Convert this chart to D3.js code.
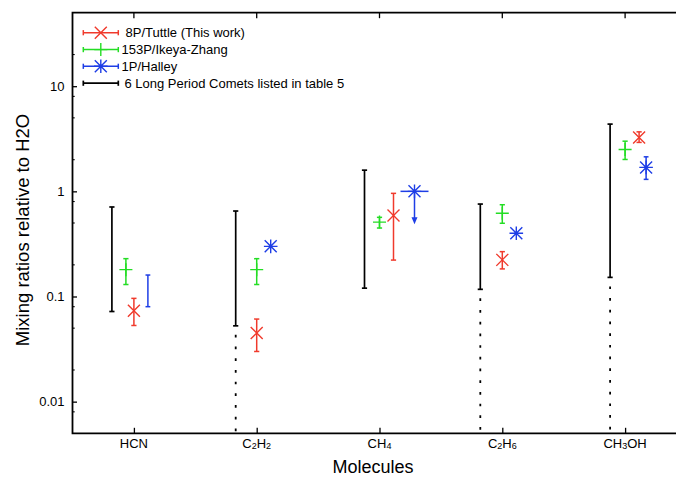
<!DOCTYPE html>
<html>
<head>
<meta charset="utf-8">
<script src="https://cdn.jsdelivr.net/npm/d3@7/dist/d3.min.js"></script>
<style>
  html, body { margin: 0; padding: 0; background: #fff; }
  svg { display: block; font-family: "Liberation Sans", Arial, Helvetica, sans-serif; }
</style>
</head>
<body>
<svg id="chart" width="676" height="477"></svg>
<script>
// Molecules on the x axis (digits in the formulas are drawn as subscripts)
const molecules = ["HCN", "C2H2", "CH4", "C2H6", "CH3OH"];

// 8P/Tuttle (this work): value and error range
const tuttleVal = [0.073, 0.045, 0.59, 0.223, 3.26];
const tuttleLo  = [0.053, 0.030, 0.222, 0.183, 2.92];
const tuttleHi  = [0.096, 0.061, 0.957, 0.267, 3.68];

// 153P/Ikeya-Zhang
const ikeyaVal = [0.18, 0.18, 0.51, 0.618, 2.5];
const ikeyaLo  = [0.13, 0.13, 0.448, 0.497, 2.01];
const ikeyaHi  = [0.229, 0.229, 0.566, 0.746, 3.0];

// 1P/Halley (HCN given only as a range, CH4 as an upper limit)
const halleyVal   = [null, 0.30, 1.0, 0.40, 1.69];
const halleyLo    = [0.08, null, null, null, 1.30];
const halleyHi    = [0.16, null, null, null, 2.13];
const halleyUpper = [false, false, true, false, false];

// Range spanned by the 6 long period comets (open-ended below where flagged)
const lpcLo        = [0.072, 0.0526, 0.12, 0.117, 0.152];
const lpcHi        = [0.71, 0.65, 1.59, 0.757, 4.36];
const lpcOpenBelow = [false, true, false, true, true];

const yTicks = [0.01, 0.1, 1, 10];
const yTickLabels = ["0.01", "0.1", "1", "10"];
const yMinorTicks = [0.008, 0.02, 0.05, 0.08, 0.2, 0.5, 0.8, 2, 5, 8, 20];

const legendLabels = [
  "8P/Tuttle (This work)",
  "153P/Ikeya-Zhang",
  "1P/Halley",
  "6 Long Period Comets listed in table 5"
];

// ---- layout ----
const colors = { tuttle: "#f03a2c", ikeya: "#24dd24", halley: "#1e3ee6", lpc: "#000" };
// horizontal offsets (px) of each series within a molecule group
const dodge = {
  lpc:    [-22, -21, -15, -22, -15],
  ikeya:  [-8, 0, 0, 0, 0],
  tuttle: [0, 0, 14, 0, 14],
  halley: [14, 14, 35, 14, 21]
};

const svg = d3.select("#chart");
const plotLeft = 72.5, plotRight = 686.5, plotTop = 12.7, plotBottom = 433.3;

const x = d3.scaleLinear().domain([0.5, molecules.length + 0.5]).range([plotLeft, plotRight]);
const y = d3.scaleLog().domain([0.005, 50]).range([plotBottom, plotTop]);

const g = svg.append("g");

// ---- axes frame ----
const frame = g.append("g").attr("stroke", "#000").attr("stroke-width", 1.8).attr("fill", "none");
frame.append("path").attr("d", `M${plotRight},${plotTop}H${plotLeft}V${plotBottom}H${plotRight}`);

// left axis: labels outside, ticks pointing inward
const yAxis = d3.axisLeft(y).tickValues(yTicks).tickFormat((d, i) => yTickLabels[i]).tickSize(-4.5).tickPadding(8);
const ya = g.append("g").attr("transform", `translate(${plotLeft},0)`).call(yAxis);
ya.select(".domain").remove();
ya.selectAll(".tick line").attr("stroke-width", 1.3);
ya.selectAll(".tick text").attr("font-size", 13).attr("fill", "#000")
  .attr("font-family", "'Liberation Sans', Arial, sans-serif");

g.append("g").selectAll("line").data(yMinorTicks).join("line")
  .attr("x1", plotLeft).attr("x2", plotLeft + 2.2)
  .attr("y1", d => y(d)).attr("y2", d => y(d))
  .attr("stroke", "#000").attr("stroke-width", 1.1);

// bottom axis ticks (inward) and top mirror ticks
const cats = molecules.map((m, i) => i + 1);
const xa = g.append("g").attr("transform", `translate(0,${plotBottom})`)
  .call(d3.axisBottom(x).tickValues(cats).tickSize(-5.5).tickFormat(() => ""));
xa.select(".domain").remove();
xa.selectAll(".tick line").attr("stroke-width", 1.3);

g.append("g").selectAll("line").data(cats).join("line")
  .attr("x1", d => x(d)).attr("x2", d => x(d))
  .attr("y1", plotTop).attr("y2", plotTop + 5.5)
  .attr("stroke", "#000").attr("stroke-width", 1.3);

// category labels with subscript digits
const catLabels = g.append("g").selectAll("text").data(molecules).join("text")
  .attr("x", (d, i) => x(i + 1)).attr("y", 447.5)
  .attr("text-anchor", "middle").attr("font-size", 13).attr("fill", "#000");
catLabels.each(function(d) {
  const t = d3.select(this);
  const parts = d.match(/[A-Za-z]+|\d+/g);
  let shifted = false;
  parts.forEach(p => {
    if (/\d/.test(p)) {
      t.append("tspan").attr("font-size", 9).attr("dy", shifted ? 0 : 1).text(p);
      shifted = true;
    } else {
      t.append("tspan").attr("dy", shifted ? -1 : 0).text(p);
      shifted = false;
    }
  });
});

// axis titles
g.append("text").attr("x", 373).attr("y", 473).attr("text-anchor", "middle")
  .attr("font-size", 18).attr("fill", "#000").text("Molecules");
g.append("text").attr("transform", "translate(29,230) rotate(-90)")
  .attr("text-anchor", "middle").attr("font-size", 18.5).attr("fill", "#000")
  .text("Mixing ratios relative to H2O");

// ---- mark helpers ----
const plot = g.append("g").attr("fill", "none").attr("stroke-linecap", "butt");

function errorBar(sel, cx, lo, hi, color, width, cap) {
  sel.append("line").attr("x1", cx).attr("x2", cx).attr("y1", y(lo)).attr("y2", y(hi))
    .attr("stroke", color).attr("stroke-width", width);
  [lo, hi].forEach(v => {
    sel.append("line").attr("x1", cx - cap).attr("x2", cx + cap).attr("y1", y(v)).attr("y2", y(v))
      .attr("stroke", color).attr("stroke-width", width);
  });
}

function marker(sel, kind, cx, cy, color) {
  const s = 6;
  const p = d3.path();
  if (kind === "x" || kind === "*") {
    p.moveTo(cx - s, cy - s); p.lineTo(cx + s, cy + s);
    p.moveTo(cx - s, cy + s); p.lineTo(cx + s, cy - s);
  }
  if (kind === "+" || kind === "*") {
    const r = kind === "+" ? 6.5 : 6.8;
    p.moveTo(cx - r, cy); p.lineTo(cx + r, cy);
    p.moveTo(cx, cy - r); p.lineTo(cx, cy + r);
  }
  sel.append("path").attr("d", p.toString()).attr("stroke", color).attr("stroke-width", 1.4).attr("fill", "none");
}

// ---- long period comet ranges ----
molecules.forEach((m, i) => {
  const cx = x(i + 1) + dodge.lpc[i];
  errorBar(plot, cx, lpcLo[i], lpcHi[i], colors.lpc, 1.7, 2.6);
  if (lpcOpenBelow[i]) {
    plot.append("line").attr("x1", cx).attr("x2", cx)
      .attr("y1", y(lpcLo[i]) + 9).attr("y2", plotBottom)
      .attr("stroke", "#000").attr("stroke-width", 1.8).attr("stroke-dasharray", "2.7 9");
  }
});

// ---- 153P/Ikeya-Zhang ----
molecules.forEach((m, i) => {
  const cx = x(i + 1) + dodge.ikeya[i];
  errorBar(plot, cx, ikeyaLo[i], ikeyaHi[i], colors.ikeya, 1.5, 2.6);
  marker(plot, "+", cx, y(ikeyaVal[i]), colors.ikeya);
});

// ---- 8P/Tuttle ----
molecules.forEach((m, i) => {
  const cx = x(i + 1) + dodge.tuttle[i];
  errorBar(plot, cx, tuttleLo[i], tuttleHi[i], colors.tuttle, 1.5, 2.6);
  marker(plot, "x", cx, y(tuttleVal[i]), colors.tuttle);
});

// ---- 1P/Halley ----
molecules.forEach((m, i) => {
  const cx = x(i + 1) + dodge.halley[i];
  if (halleyLo[i] != null) errorBar(plot, cx, halleyLo[i], halleyHi[i], colors.halley, 1.5, 2.4);
  if (halleyVal[i] != null) {
    const cy = y(halleyVal[i]);
    marker(plot, "*", cx, cy, colors.halley);
    if (halleyUpper[i]) {
      // upper limit: horizontal bar and downward arrow
      plot.append("line").attr("x1", cx - 14).attr("x2", cx + 14).attr("y1", cy).attr("y2", cy)
        .attr("stroke", colors.halley).attr("stroke-width", 1.5);
      plot.append("line").attr("x1", cx).attr("x2", cx).attr("y1", cy).attr("y2", cy + 28)
        .attr("stroke", colors.halley).attr("stroke-width", 1.5);
      plot.append("path").attr("d", `M${cx - 3},${cy + 26}L${cx + 3},${cy + 26}L${cx},${cy + 33}Z`)
        .attr("fill", colors.halley).attr("stroke", "none");
    }
  }
});

// ---- legend ----
const legendKeys = ["tuttle", "ikeya", "halley", "lpc"];
const legendMarkers = ["x", "+", "*", null];
const legendRowY = [32.7, 49.6, 66.3, 83.2];
const legendTextX = [125.5, 121.5, 121.5, 124.5];
const lg = g.append("g");
legendKeys.forEach((k, i) => {
  const ly = legendRowY[i], x0 = 83.3, x1 = 118.3;
  const w = k === "lpc" ? 1.7 : 1.5;
  lg.append("line").attr("x1", x0).attr("x2", x1).attr("y1", ly).attr("y2", ly)
    .attr("stroke", colors[k]).attr("stroke-width", w);
  [x0, x1].forEach(xx => lg.append("line").attr("x1", xx).attr("x2", xx)
    .attr("y1", ly - 2.6).attr("y2", ly + 2.6).attr("stroke", colors[k]).attr("stroke-width", w));
  if (legendMarkers[i]) marker(lg, legendMarkers[i], (x0 + x1) / 2, ly, colors[k]);
  lg.append("text").attr("x", legendTextX[i]).attr("y", ly + 4.7)
    .attr("font-size", 13).attr("fill", "#000").text(legendLabels[i]);
});
</script>
</body>
</html>
